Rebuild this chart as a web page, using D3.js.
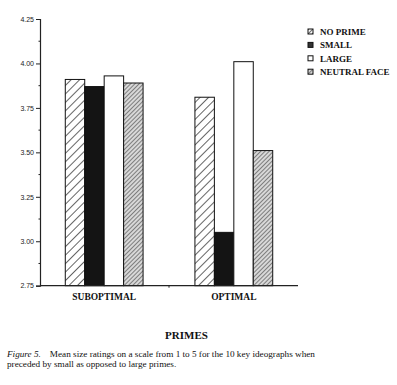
<!DOCTYPE html>
<html>
<head>
<meta charset="utf-8">
<script src="https://cdn.jsdelivr.net/npm/d3@7"></script>
<style>
  body { margin: 0; background: #fff; }
  svg { display: block; }
  .tick text { font-family: "Liberation Sans", Arial, sans-serif; font-size: 7px; }
  .serif { font-family: "Liberation Serif", "Times New Roman", serif; fill: #111; }
</style>
</head>
<body>
<svg id="chart"></svg>
<script>
var groups = ["SUBOPTIMAL", "OPTIMAL"];
var primes = ["NO PRIME", "SMALL", "LARGE", "NEUTRAL FACE"];
var noPrime = [3.91, 3.81];
var small = [3.87, 3.05];
var large = [3.93, 4.01];
var neutral = [3.89, 3.51];
var yTicks = [2.75, 3.00, 3.25, 3.50, 3.75, 4.00, 4.25];

var seriesValues = [noPrime, small, large, neutral];
var data = groups.map(function(g, i) {
  return { group: g, values: primes.map(function(p, k) { return { key: p, value: seriesValues[k][i] }; }) };
});

var W = 397, H = 385;
var svg = d3.select("#chart").attr("width", W).attr("height", H);

var defs = svg.append("defs");
// wide hatching for NO PRIME
var p1 = defs.append("pattern").attr("id", "hatchWide")
  .attr("patternUnits", "userSpaceOnUse").attr("width", 6).attr("height", 6)
  .attr("patternTransform", "rotate(45)");
p1.append("rect").attr("width", 6).attr("height", 6).attr("fill", "#fff");
p1.append("line").attr("x1", 0).attr("y1", 0).attr("x2", 0).attr("y2", 6)
  .attr("stroke", "#111").attr("stroke-width", 1.3);
// dense grey hatching for NEUTRAL FACE
var p2 = defs.append("pattern").attr("id", "hatchDense")
  .attr("patternUnits", "userSpaceOnUse").attr("width", 3).attr("height", 3)
  .attr("patternTransform", "rotate(45)");
p2.append("rect").attr("width", 3).attr("height", 3).attr("fill", "#d8d8d8");
p2.append("line").attr("x1", 0).attr("y1", 0).attr("x2", 0).attr("y2", 3)
  .attr("stroke", "#333").attr("stroke-width", 1.1);
// small swatch pattern for legend
var p3 = defs.append("pattern").attr("id", "hatchSwatch")
  .attr("patternUnits", "userSpaceOnUse").attr("width", 3).attr("height", 3)
  .attr("patternTransform", "rotate(45)");
p3.append("rect").attr("width", 3).attr("height", 3).attr("fill", "#fff");
p3.append("line").attr("x1", 0).attr("y1", 0).attr("x2", 0).attr("y2", 3)
  .attr("stroke", "#111").attr("stroke-width", 1.2);

var fills = {
  "NO PRIME": "url(#hatchWide)",
  "SMALL": "#141414",
  "LARGE": "#fff",
  "NEUTRAL FACE": "url(#hatchDense)"
};
var swatchFills = {
  "NO PRIME": "url(#hatchSwatch)",
  "SMALL": "#333",
  "LARGE": "#fff",
  "NEUTRAL FACE": "url(#hatchDense)"
};

var x0 = d3.scaleBand().domain(groups).range([40, 298])
  .paddingInner(0.4).paddingOuter(0.195);
var x1 = d3.scaleBand().domain(primes).range([0, x0.bandwidth()]);
var y = d3.scaleLinear().domain([2.75, 4.25]).range([285.7, 19]);

// bars
svg.append("g").selectAll("g")
  .data(data)
  .enter().append("g")
  .attr("transform", function(d) { return "translate(" + x0(d.group) + ",0)"; })
  .selectAll("rect")
  .data(function(d) { return d.values; })
  .enter().append("rect")
  .attr("x", function(d) { return x1(d.key); })
  .attr("width", x1.bandwidth())
  .attr("y", function(d) { return y(d.value); })
  .attr("height", function(d) { return y(2.75) - y(d.value); })
  .attr("fill", function(d) { return fills[d.key]; })
  .attr("stroke", "#111")
  .attr("stroke-width", 1);

// y axis
var yAxis = svg.append("g")
  .attr("transform", "translate(40,0)")
  .call(d3.axisLeft(y).tickValues(yTicks).tickFormat(d3.format(".2f")).tickSize(4).tickPadding(2));
yAxis.select(".domain").attr("stroke", "#222").attr("stroke-width", 1.2);
yAxis.selectAll(".tick line").attr("stroke", "#222");
yAxis.selectAll(".tick text").attr("fill", "#222");

// minor ticks
var minor = d3.range(0, yTicks.length - 1).map(function(i) { return (yTicks[i] + yTicks[i + 1]) / 2; });
svg.append("g").selectAll("line").data(minor).enter().append("line")
  .attr("x1", 38.5).attr("x2", 40)
  .attr("y1", function(d) { return y(d); }).attr("y2", function(d) { return y(d); })
  .attr("stroke", "#222");

// x axis
svg.append("line")
  .attr("x1", 40).attr("x2", 298)
  .attr("y1", y(2.75)).attr("y2", y(2.75))
  .attr("stroke", "#222").attr("stroke-width", 1.2);
var mid = (x0("SUBOPTIMAL") + x0("OPTIMAL") + x0.bandwidth()) / 2;
svg.append("line")
  .attr("x1", mid).attr("x2", mid)
  .attr("y1", y(2.75)).attr("y2", y(2.75) + 2)
  .attr("stroke", "#222");

// group labels
svg.append("g").selectAll("text").data(groups).enter().append("text")
  .attr("class", "serif")
  .attr("x", function(d) { return x0(d) + x0.bandwidth() / 2; })
  .attr("y", 300)
  .attr("text-anchor", "middle")
  .attr("font-size", 9.5)
  .attr("font-weight", "bold")
  .text(function(d) { return d; });

// legend
var legend = svg.append("g").selectAll("g").data(primes).enter().append("g")
  .attr("transform", function(d, i) { return "translate(308," + (29 + i * 13.4) + ")"; });
legend.append("rect")
  .attr("width", 5).attr("height", 5)
  .attr("fill", function(d) { return swatchFills[d]; })
  .attr("stroke", "#111").attr("stroke-width", 1);
legend.append("text")
  .attr("class", "serif")
  .attr("x", 12).attr("y", 6)
  .attr("font-size", 9)
  .attr("font-weight", "bold")
  .text(function(d) { return d; });

// axis title
svg.append("text")
  .attr("class", "serif")
  .attr("x", 186.5).attr("y", 339)
  .attr("text-anchor", "middle")
  .attr("font-size", 11)
  .attr("font-weight", "bold")
  .text("PRIMES");

// caption
var cap = svg.append("text").attr("class", "serif").attr("font-size", 9.2);
var l1 = cap.append("tspan").attr("x", 7).attr("y", 357);
l1.append("tspan").attr("font-style", "italic").text("Figure 5.");
l1.append("tspan").attr("dx", 9).text("Mean size ratings on a scale from 1 to 5 for the 10 key ideographs when");
cap.append("tspan").attr("x", 7).attr("y", 366.5)
  .text("preceded by small as opposed to large primes.");
</script>
</body>
</html>
